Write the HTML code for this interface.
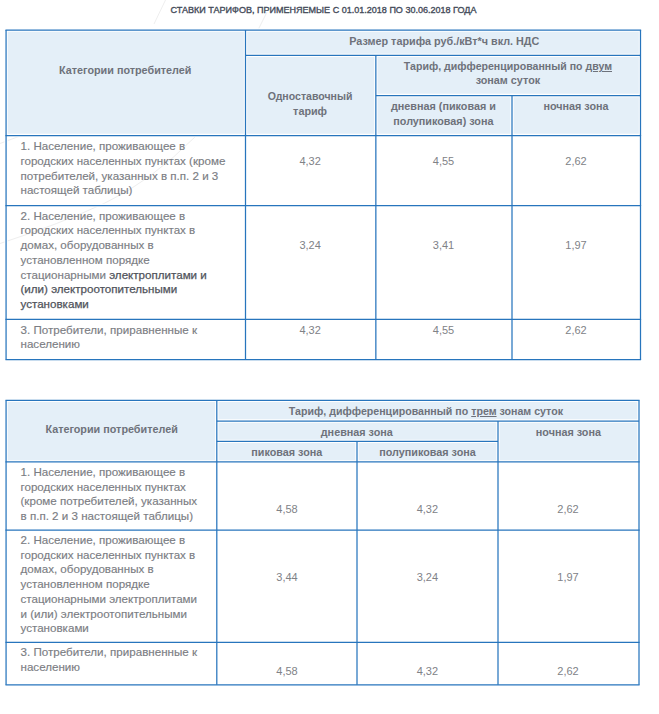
<!DOCTYPE html>
<html lang="ru"><head><meta charset="utf-8"><title>Ставки тарифов</title>
<style>
html,body{margin:0;padding:0;background:#fff;}
#page{position:relative;width:659px;height:714px;overflow:hidden;background:#fff;font-family:"Liberation Sans",Arial,sans-serif;}
#page svg{position:absolute;left:0;top:0;}
.t{position:absolute;white-space:nowrap;height:14px;line-height:14px;font-size:11.6px;color:#7b7d83;-webkit-text-stroke:0.15px #7b7d83;}
.t.c{width:400px;text-align:center;}
.t.b{font-weight:bold;font-size:10.8px;color:#6e727b;-webkit-text-stroke:0;}
.t.num{font-size:11.0px;color:#808287;-webkit-text-stroke:0;}
.t .d{color:#50535b;-webkit-text-stroke:0.25px #50535b;}
.t.title{-webkit-text-stroke:0.35px #454c5a;font-weight:normal;font-size:9.04px;color:#454c5a;}
u{text-decoration:underline;}
</style></head><body>
<div id="page">
<svg width="659" height="714" viewBox="0 0 659 714">
<g stroke="#eeeeee" stroke-width="1" fill="none">
<path d="M0,243.5 Q60,224 105,203 T196,136"/>
<path d="M0,143.5 L24,134.5"/>
<path d="M165.5,0 L154,24"/>
<path d="M267,12 L258,30"/>
</g>
<rect x="6.07" y="30.0" width="634.43" height="105.50" fill="#e4eff8"/>
<rect x="6.07" y="400.46" width="632.93" height="61.44" fill="#e4eff8"/>
<g stroke="#ffffff" stroke-width="3.3" stroke-linecap="square" fill="none">
<line x1="5.45" y1="30.0" x2="641.12" y2="30.0"/>
<line x1="245.50" y1="55.4" x2="640.50" y2="55.4"/>
<line x1="375.85" y1="95.5" x2="640.50" y2="95.5"/>
<line x1="5.45" y1="135.5" x2="641.12" y2="135.5"/>
<line x1="5.45" y1="205.5" x2="641.12" y2="205.5"/>
<line x1="5.45" y1="319.4" x2="641.12" y2="319.4"/>
<line x1="5.45" y1="359.5" x2="641.12" y2="359.5"/>
<line x1="6.07" y1="30.00" x2="6.07" y2="359.50"/>
<line x1="640.5" y1="30.00" x2="640.5" y2="359.50"/>
<line x1="245.5" y1="30.00" x2="245.5" y2="359.50"/>
<line x1="375.85" y1="55.40" x2="375.85" y2="359.50"/>
<line x1="512.0" y1="95.50" x2="512.0" y2="359.50"/>
<line x1="5.45" y1="400.46" x2="639.62" y2="400.46"/>
<line x1="216.80" y1="421.0" x2="639.00" y2="421.0"/>
<line x1="216.80" y1="441.45" x2="498.00" y2="441.45"/>
<line x1="5.45" y1="461.9" x2="639.62" y2="461.9"/>
<line x1="5.45" y1="530.0" x2="639.62" y2="530.0"/>
<line x1="5.45" y1="642.35" x2="639.62" y2="642.35"/>
<line x1="5.45" y1="684.85" x2="639.62" y2="684.85"/>
<line x1="6.07" y1="400.46" x2="6.07" y2="684.85"/>
<line x1="639.0" y1="400.46" x2="639.0" y2="684.85"/>
<line x1="216.8" y1="400.46" x2="216.8" y2="684.85"/>
<line x1="357.0" y1="441.45" x2="357.0" y2="684.85"/>
<line x1="498.0" y1="421.00" x2="498.0" y2="684.85"/>
</g>
<g stroke="#2775bd" stroke-width="1.25" fill="none">
<line x1="5.45" y1="30.0" x2="641.12" y2="30.0"/>
<line x1="245.50" y1="55.4" x2="640.50" y2="55.4"/>
<line x1="375.85" y1="95.5" x2="640.50" y2="95.5"/>
<line x1="5.45" y1="135.5" x2="641.12" y2="135.5"/>
<line x1="5.45" y1="205.5" x2="641.12" y2="205.5"/>
<line x1="5.45" y1="319.4" x2="641.12" y2="319.4"/>
<line x1="5.45" y1="359.5" x2="641.12" y2="359.5"/>
<line x1="6.07" y1="30.00" x2="6.07" y2="359.50"/>
<line x1="640.5" y1="30.00" x2="640.5" y2="359.50"/>
<line x1="245.5" y1="30.00" x2="245.5" y2="359.50"/>
<line x1="375.85" y1="55.40" x2="375.85" y2="359.50"/>
<line x1="512.0" y1="95.50" x2="512.0" y2="359.50"/>
<line x1="5.45" y1="400.46" x2="639.62" y2="400.46"/>
<line x1="216.80" y1="421.0" x2="639.00" y2="421.0"/>
<line x1="216.80" y1="441.45" x2="498.00" y2="441.45"/>
<line x1="5.45" y1="461.9" x2="639.62" y2="461.9"/>
<line x1="5.45" y1="530.0" x2="639.62" y2="530.0"/>
<line x1="5.45" y1="642.35" x2="639.62" y2="642.35"/>
<line x1="5.45" y1="684.85" x2="639.62" y2="684.85"/>
<line x1="6.07" y1="400.46" x2="6.07" y2="684.85"/>
<line x1="639.0" y1="400.46" x2="639.0" y2="684.85"/>
<line x1="216.8" y1="400.46" x2="216.8" y2="684.85"/>
<line x1="357.0" y1="441.45" x2="357.0" y2="684.85"/>
<line x1="498.0" y1="421.00" x2="498.0" y2="684.85"/>
</g>
</svg>
<div class="t c title" style="left:73.50px;width:500px;top:3.30px">СТАВКИ ТАРИФОВ, ПРИМЕНЯЕМЫЕ С 01.01.2018 ПО 30.06.2018 ГОДА</div>
<div class="t c b" style="left:-74.75px;top:62.50px;">Категории потребителей</div>
<div class="t c b" style="left:244.30px;top:34.20px;">Размер тарифа руб./кВт*ч вкл. НДС</div>
<div class="t c b" style="left:110.10px;top:88.70px;font-size:10.55px">Одноставочный</div>
<div class="t c b" style="left:110.10px;top:103.50px;">тариф</div>
<div class="t c b" style="left:307.95px;top:59.40px;font-size:10.58px">Тариф, дифференцированный по <u>двум</u></div>
<div class="t c b" style="left:307.90px;top:73.20px;">зонам суток</div>
<div class="t c b" style="left:243.40px;top:99.30px;">дневная (пиковая и</div>
<div class="t c b" style="left:243.40px;top:114.30px;">полупиковая) зона</div>
<div class="t c b" style="left:376.00px;top:99.30px;">ночная зона</div>
<div class="t n" style="left:20.5px;top:139px;">1. Население, проживающее в</div>
<div class="t n" style="left:20.5px;top:154px;">городских населенных пунктах (кроме</div>
<div class="t n" style="left:20.5px;top:169px;">потребителей, указанных в п.п. 2 и 3</div>
<div class="t n" style="left:20.5px;top:183px;">настоящей таблицы)</div>
<div class="t n" style="left:20.5px;top:209px;">2. Население, проживающее в</div>
<div class="t n" style="left:20.5px;top:223px;">городских населенных пунктах в</div>
<div class="t n" style="left:20.5px;top:238px;">домах, оборудованных в</div>
<div class="t n" style="left:20.5px;top:253px;">установленном порядке</div>
<div class="t n" style="left:20.5px;top:268px;">стационарными <span class="d">электроплитами и</span></div>
<div class="t n" style="left:20.5px;top:282px;"><span class="d">(или) электроотопительными</span></div>
<div class="t n" style="left:20.5px;top:297px;"><span class="d">установками</span></div>
<div class="t n" style="left:20.5px;top:323px;">3. Потребители, приравненные к</div>
<div class="t n" style="left:20.5px;top:337px;">населению</div>
<div class="t c num" style="left:110.10px;top:153.90px;">4,32</div>
<div class="t c num" style="left:243.50px;top:153.90px;">4,55</div>
<div class="t c num" style="left:376.00px;top:153.90px;">2,62</div>
<div class="t c num" style="left:110.10px;top:237.80px;">3,24</div>
<div class="t c num" style="left:243.50px;top:237.80px;">3,41</div>
<div class="t c num" style="left:376.00px;top:237.80px;">1,97</div>
<div class="t c num" style="left:110.10px;top:322.70px;">4,32</div>
<div class="t c num" style="left:243.50px;top:322.70px;">4,55</div>
<div class="t c num" style="left:376.00px;top:322.70px;">2,62</div>
<div class="t c b" style="left:-88.40px;top:422.20px;">Категории потребителей</div>
<div class="t c b" style="left:225.90px;top:404.00px;font-size:10.64px">Тариф, дифференцированный по <u>трем</u> зонам суток</div>
<div class="t c b" style="left:156.80px;top:424.80px;">дневная зона</div>
<div class="t c b" style="left:368.40px;top:424.80px;">ночная зона</div>
<div class="t c b" style="left:86.80px;top:445.30px;">пиковая зона</div>
<div class="t c b" style="left:227.50px;top:445.30px;">полупиковая зона</div>
<div class="t n" style="left:20.5px;top:465px;">1. Население, проживающее в</div>
<div class="t n" style="left:20.5px;top:480px;">городских населенных пунктах</div>
<div class="t n" style="left:20.5px;top:494px;">(кроме потребителей, указанных</div>
<div class="t n" style="left:20.5px;top:509px;">в п.п. 2 и 3 настоящей таблицы)</div>
<div class="t n" style="left:20.5px;top:533px;">2. Население, проживающее в</div>
<div class="t n" style="left:20.5px;top:548px;">городских населенных пунктах в</div>
<div class="t n" style="left:20.5px;top:562px;">домах, оборудованных в</div>
<div class="t n" style="left:20.5px;top:577px;">установленном порядке</div>
<div class="t n" style="left:20.5px;top:592px;">стационарными электроплитами</div>
<div class="t n" style="left:20.5px;top:607px;">и (или) электроотопительными</div>
<div class="t n" style="left:20.5px;top:621px;">установками</div>
<div class="t n" style="left:20.5px;top:645px;">3. Потребители, приравненные к</div>
<div class="t n" style="left:20.5px;top:660px;">населению</div>
<div class="t c num" style="left:87.00px;top:502.20px;">4,58</div>
<div class="t c num" style="left:227.40px;top:502.20px;">4,32</div>
<div class="t c num" style="left:368.00px;top:502.20px;">2,62</div>
<div class="t c num" style="left:87.00px;top:570.20px;">3,44</div>
<div class="t c num" style="left:227.40px;top:570.20px;">3,24</div>
<div class="t c num" style="left:368.00px;top:570.20px;">1,97</div>
<div class="t c num" style="left:87.00px;top:663.70px;">4,58</div>
<div class="t c num" style="left:227.40px;top:663.70px;">4,32</div>
<div class="t c num" style="left:368.00px;top:663.70px;">2,62</div>
</div>
</body></html>
